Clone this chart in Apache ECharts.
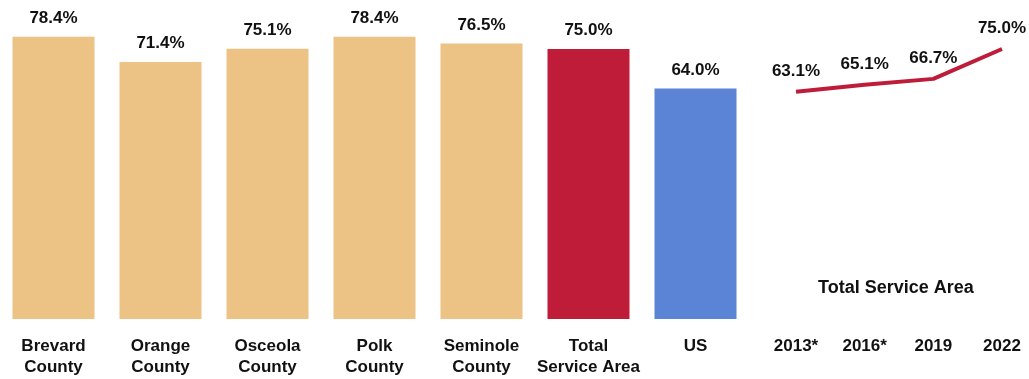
<!DOCTYPE html>
<html><head><meta charset="utf-8">
<script src="https://cdn.jsdelivr.net/npm/echarts@6/dist/echarts.min.js"></script>
<style>html,body{margin:0;padding:0;background:#fff}#c{width:1029px;height:379px}</style>
</head><body><div id="c"></div>
<script>
const barCategories = ['Brevard\nCounty','Orange\nCounty','Osceola\nCounty','Polk\nCounty','Seminole\nCounty','Total\nService Area','US'];
const barValues = [78.4, 71.4, 75.1, 78.4, 76.5, 75.0, 64.0];
const barColors = ['#EDC285','#EDC285','#EDC285','#EDC285','#EDC285','#BE1C38','#5B84D6'];
const years = ['2013*','2016*','2019','2022'];
const trendValues = [63.1, 65.1, 66.7, 75.0];
const trendTitle = 'Total Service Area';

const FONT = "'Liberation Sans', Arial, sans-serif";
const chart = echarts.init(document.getElementById('c'), null, {renderer:'canvas'});
const lbl = {fontFamily: FONT, fontWeight:'bold', fontSize:17, color:'#111'};
chart.setOption({
  animation:false,
  grid:[
    {left:0, right:280, top:31, bottom:60},
    {left:796, right:27, top:31, bottom:60}
  ],
  xAxis:[
    {type:'category', gridIndex:0, data:barCategories, axisLine:{show:false}, axisTick:{show:false},
     axisLabel:Object.assign({margin:17, lineHeight:21, interval:0}, lbl)},
    {type:'category', gridIndex:1, data:years, boundaryGap:false, axisLine:{show:false}, axisTick:{show:false},
     axisLabel:Object.assign({margin:17, lineHeight:21, interval:0}, lbl)}
  ],
  yAxis:[
    {type:'value', gridIndex:0, min:0, max:80, show:false},
    {type:'value', gridIndex:1, min:0, max:80, show:false}
  ],
  graphic:[{type:'text', left:818, top:279, style:{text:trendTitle, font:"bold 18px "+FONT, fill:'#111'}}],
  series:[
    {type:'bar', xAxisIndex:0, yAxisIndex:0, barWidth:82,
     data: barValues.map((v,i)=>({value:v, itemStyle:{color:barColors[i]}})),
     label:Object.assign({show:true, position:'top', distance:10, formatter:p=>p.value.toFixed(1)+'%'}, lbl)},
    {type:'line', xAxisIndex:1, yAxisIndex:1, data:trendValues, symbol:'circle', symbolSize:0, showSymbol:true,
     lineStyle:{color:'#BE1C38', width:4}, itemStyle:{color:'#BE1C38'},
     label:Object.assign({show:true, position:'top', distance:12, formatter:p=>p.value.toFixed(1)+'%'}, lbl)}
  ]
});
</script></body></html>
